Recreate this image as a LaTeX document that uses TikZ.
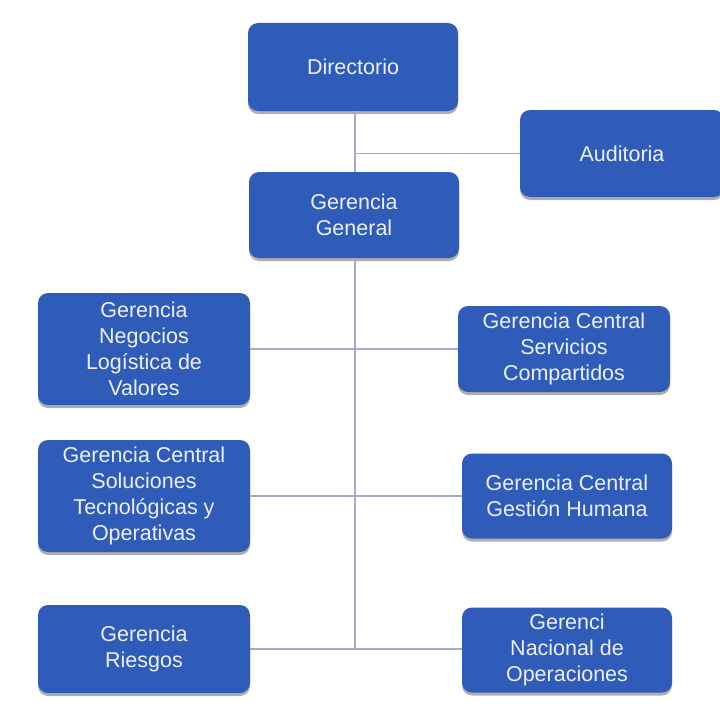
\documentclass[tikz,border=0pt]{standalone}
\usepackage{fontspec}
\setmainfont{Liberation Sans}
\usetikzlibrary{shadows}
\definecolor{boxblue}{RGB}{47,92,184}
\definecolor{boxtext}{RGB}{236,240,250}
\definecolor{linkgray}{RGB}{170,168,200}
\tikzset{
  unit/.style={draw=none, fill=boxblue, rounded corners=10pt, text=boxtext,
    align=center, font=\fontsize{21.5}{26}\selectfont, inner sep=1pt,
    drop shadow={shadow xshift=0pt, shadow yshift=-3pt, opacity=0.45, fill=black!70}},
  link/.style={draw=linkgray, line width=1.6pt}
}
\begin{document}
\begin{tikzpicture}[x=1pt,y=1pt]
\useasboundingbox (0,0) rectangle (720,-709);
\clip (0,0) rectangle (720,-709);
\fill[white] (0,0) rectangle (720,-709);

% top of the chart
\node[unit, minimum width=210pt, minimum height=88pt] (dir) at (353,-67) {Directorio};
\node[unit, minimum width=204pt, minimum height=87pt] (aud) at (622,-153.5) {Auditoria};
\node[unit, minimum width=210pt, minimum height=86pt] (gg) at (354,-215) {Gerencia\\General};

% left column
\node[unit, minimum width=212pt, minimum height=112pt] (neg) at (144,-349) {Gerencia\\Negocios\\Logística de\\Valores};
\node[unit, minimum width=212pt, minimum height=112pt] (sol) at (144,-496) {Gerencia Central\\Soluciones\\Tecnológicas y\\Operativas};
\node[unit, minimum width=212pt, minimum height=88pt] (rie) at (144,-649) {Gerencia\\Riesgos};

% right column
\node[unit, minimum width=212pt, minimum height=86pt] (ser) at (564,-349) {Gerencia Central\\Servicios\\Compartidos};
\node[unit, minimum width=210pt, minimum height=85pt] (gh) at (567,-496) {Gerencia Central\\Gestión Humana};
\node[unit, minimum width=210pt, minimum height=85pt] (ope) at (567,-650) {Gerenci\\Nacional de\\Operaciones};

% trunk line and branches
\coordinate (trunkend) at (355,-649);
\coordinate (audjoin) at (355,-153.5);
\draw[link] (dir.south -| trunkend) -- (gg.north -| trunkend);
\draw[link] (gg.south -| trunkend) -- (trunkend);
\draw[link] (audjoin) -- (aud.west);
\draw[link] (neg.east) -- (neg.east -| ser.west);
\draw[link] (sol.east) -- (sol.east -| gh.west);
\draw[link] (rie.east) -- (rie.east -| ope.west);
\end{tikzpicture}
\end{document}
